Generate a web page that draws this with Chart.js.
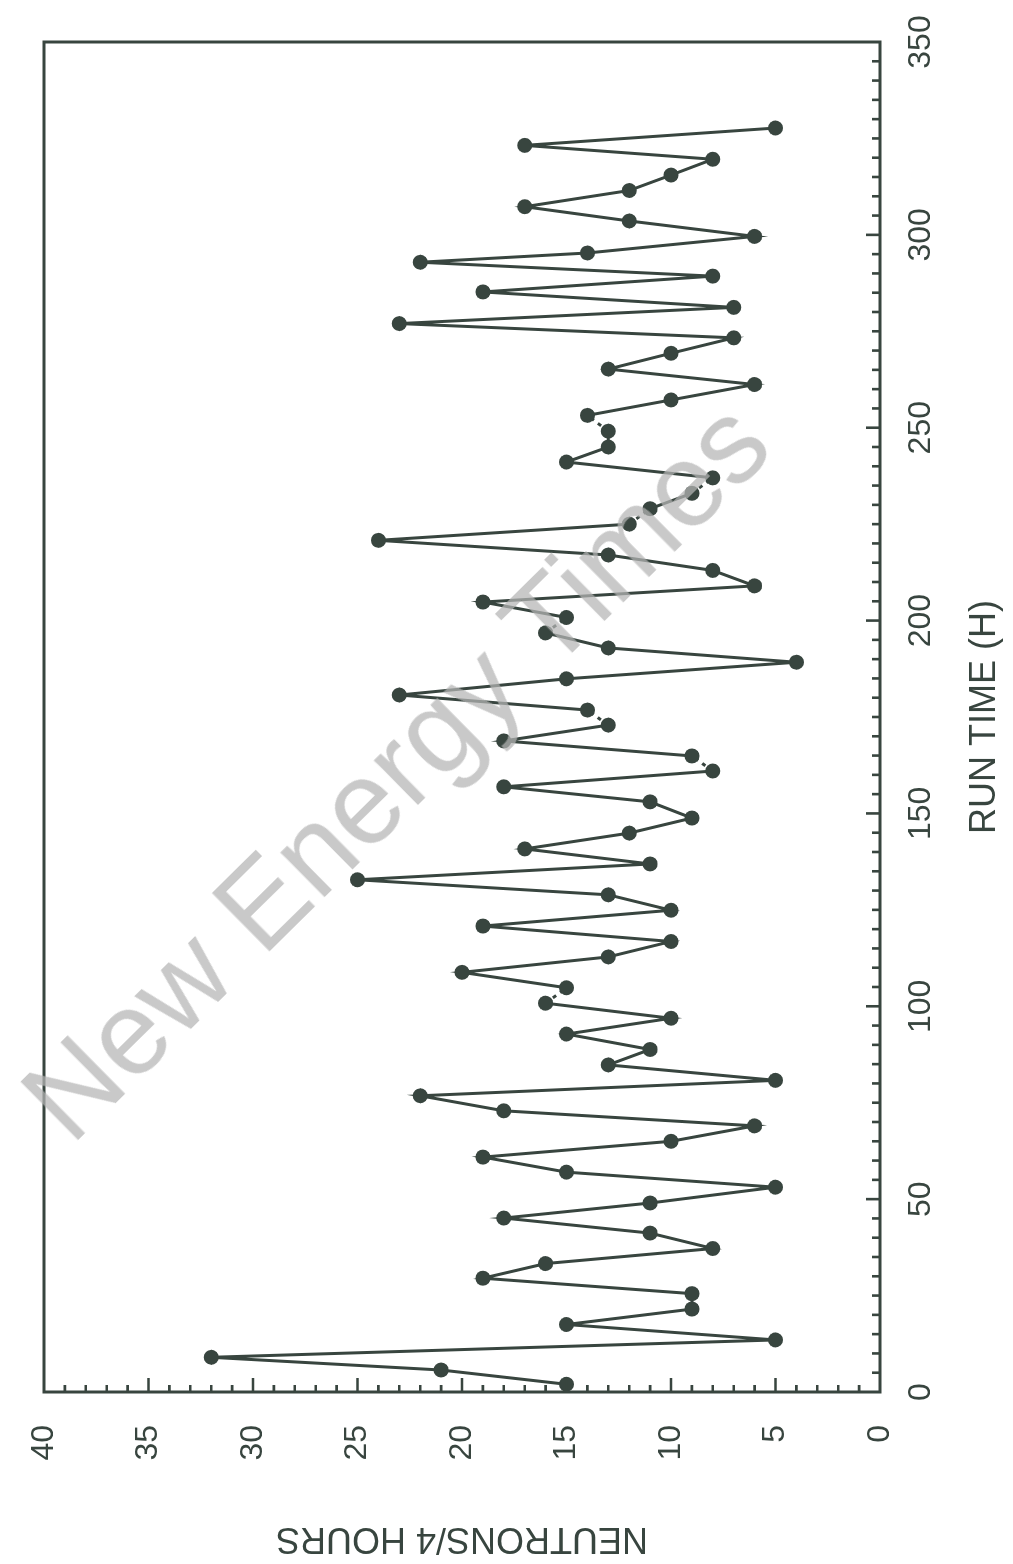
<!DOCTYPE html>
<html>
<head>
<meta charset="utf-8">
<script src="https://cdn.jsdelivr.net/npm/chart.js@4/dist/chart.umd.min.js"></script>
<style>
  body { margin: 0; background: #fff; }
  #page { position: relative; width: 1013px; height: 1564px; overflow: hidden; background: #fff; }
  /* the chart is drawn upright, then turned a quarter turn counter-clockwise */
  #chart { position: absolute; left: 0; top: 0; transform-origin: 0 0; transform: translateY(1564px) rotate(-90deg); }
  #mark { position: absolute; left: 395px; top: 770px; transform: translate(-50%, -50%) rotate(-44.6deg);
          font: 118px 'Liberation Sans', Arial, sans-serif; color: rgba(180, 180, 180, 0.72);
          white-space: nowrap; pointer-events: none; }
</style>
</head>
<body>
<div id="page">
  <canvas id="chart" width="1564" height="1013" style="width:1564px;height:1013px"></canvas>
  <div id="mark">New Energy Times</div>
</div>
<script>
    'use strict';

    // run time (h) of each 4-hour count
    var runTime = [
        2, 5.7, 9, 13.5, 17.5, 21.5, 25.5, 29.5, 33.3, 37.2,
        41.2, 45.1, 49, 53.1, 57, 60.9, 65, 69, 72.9, 76.8,
        80.8, 84.8, 88.8, 92.8, 96.9, 100.8, 104.8, 108.8, 112.8, 116.8,
        120.8, 124.9, 128.9, 132.8, 136.9, 140.8, 144.9, 148.8, 153, 156.9,
        161, 164.9, 168.8, 172.9, 176.8, 180.7, 184.9, 189.2, 192.9, 196.8,
        200.8, 204.8, 209, 213, 217, 220.8, 225, 229, 233, 237,
        241.1, 245, 249.1, 253.2, 257.2, 261.2, 265.2, 269.3, 273.3, 277,
        281.2, 285.2, 289.3, 292.9, 295.3, 299.6, 303.6, 307.3, 311.5, 315.5,
        319.6, 323.2, 327.7
    ];

    // neutrons counted per 4 hours
    var neutrons = [
        15, 21, 32, 5, 15, 9, 9, 19, 16, 8,
        11, 18, 11, 5, 15, 19, 10, 6, 18, 22,
        5, 13, 11, 15, 10, 16, 15, 20, 13, 10,
        19, 10, 13, 25, 11, 17, 12, 9, 11, 18,
        8, 9, 18, 13, 14, 23, 15, 4, 13, 16,
        15, 19, 6, 8, 13, 24, 12, 11, 9, 8,
        15, 13, 13, 14, 10, 6, 13, 10, 7, 23,
        7, 19, 8, 22, 14, 6, 12, 17, 12, 10,
        8, 17, 5
    ];

    // segments (starting at these points) drawn dotted in the original
    var dottedAfter = [25, 40, 43, 49, 56, 58, 62];

    var INK = '#38453f';

    var points = runTime.map(function (t, i) {
        return {x: t, y: neutrons[i]};
    });

    // plotter-style frame with inward ticks on the two labelled axes
    var frameTicks = {
        id: 'frameTicks',
        afterDatasetsDraw: function (chart) {
            var ctx = chart.ctx,
                a = chart.chartArea,
                x = chart.scales.x,
                y = chart.scales.y,
                v, px;

            ctx.save();
            ctx.strokeStyle = INK;
            ctx.lineWidth = 3;
            ctx.strokeRect(a.left, a.top, a.right - a.left, a.bottom - a.top);

            ctx.lineWidth = 2.6;
            ctx.beginPath();
            for (v = 1; v < 40; v++) {
                px = y.getPixelForValue(v);
                ctx.moveTo(a.left, px);
                ctx.lineTo(a.left + (v % 5 === 0 ? 14 : 7), px);
            }
            for (v = 5; v < 350; v += 5) {
                px = x.getPixelForValue(v);
                ctx.moveTo(px, a.bottom);
                ctx.lineTo(px, a.bottom - (v % 50 === 0 ? 14 : 8));
            }
            ctx.stroke();
            ctx.restore();
        }
    };

    var tickFont = {family: "'Liberation Sans', Arial, sans-serif", size: 32};

    new Chart(document.getElementById('chart'), {
        type: 'scatter',
        data: {
            datasets: [{
                data: points,
                showLine: true,
                tension: 0,
                borderColor: INK,
                borderWidth: 3,
                pointRadius: 7.5,
                pointHoverRadius: 7.5,
                pointBackgroundColor: INK,
                pointBorderColor: INK,
                pointBorderWidth: 0,
                segment: {
                    borderDash: function (ctx) {
                        return dottedAfter.indexOf(ctx.p0DataIndex) >= 0 ? [4, 5] : undefined;
                    }
                }
            }]
        },
        options: {
            responsive: false,
            devicePixelRatio: 1,
            animation: false,
            layout: {padding: {left: 0, right: 42, top: 44, bottom: 0}},
            plugins: {legend: {display: false}, tooltip: {enabled: false}},
            scales: {
                x: {
                    type: 'linear',
                    min: 0,
                    max: 350,
                    grid: {display: false, drawTicks: false},
                    border: {display: false},
                    ticks: {stepSize: 50, color: INK, font: tickFont, padding: 22, maxRotation: 0},
                    title: {
                        display: true,
                        text: 'RUN TIME (H)',
                        color: INK,
                        font: {family: "'Liberation Sans', Arial, sans-serif", size: 36},
                        padding: {top: 0, bottom: 6}
                    },
                    afterFit: function (scale) {
                        scale.height = 133;
                        scale.paddingLeft = 0;
                        scale.paddingRight = 0;
                    }
                },
                y: {
                    min: 0,
                    max: 40,
                    grid: {display: false, drawTicks: false},
                    border: {display: false},
                    ticks: {stepSize: 5, color: INK, font: tickFont, padding: 33},
                    title: {
                        display: true,
                        text: 'NEUTRONS/4 HOURS',
                        color: INK,
                        font: {family: "'Liberation Sans', Arial, sans-serif", size: 36},
                        padding: {top: 4, bottom: 0}
                    },
                    afterFit: function (scale) {
                        scale.width = 172;
                        scale.paddingTop = 0;
                        scale.paddingBottom = 0;
                    }
                }
            }
        },
        plugins: [frameTicks]
    });
</script>
</body>
</html>
